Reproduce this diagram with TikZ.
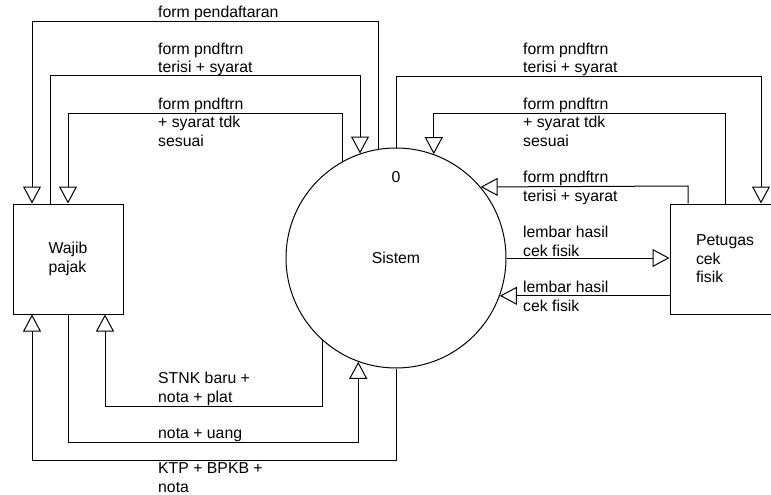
\documentclass[tikz,border=0pt]{standalone}
\usepackage{fontspec}
\setmainfont{Liberation Sans}
\usetikzlibrary{arrows.meta}
\begin{document}
\begin{tikzpicture}[x=1pt,y=-1pt,
  every node/.style={font=\fontsize{15.8}{18.5}\selectfont},
  entity/.style={draw,line width=1pt,minimum width=110pt,minimum height=110pt,align=left,inner sep=0pt},
  process/.style={draw,line width=1pt,circle,minimum size=220pt,inner sep=0pt},
  flow/.style={line width=1pt,-{Triangle[open,fill=white,length=17pt,width=18pt]}},
  lbl/.style={anchor=base west,align=left,inner sep=0pt}]
\useasboundingbox (0,0) rectangle (771,495);

% entities and the process
\node[entity] (wp) at (68,259) {Wajib\\pajak};
\node[entity] (pt) at (725,259) {Petugas\\cek\\fisik};
\node[process] (sys) at (396,258) {Sistem};
\node[inner sep=0pt,anchor=base] (num) at (396,182) {0};

% corner points of the routed flows
\coordinate (t1) at (32,22);
\coordinate (t2) at (50,76);
\coordinate (t3) at (68,113);
\coordinate (r1) at (761,77);
\coordinate (r2) at (725,113);
\coordinate (r3) at (688,186);
\coordinate (b1) at (105,406);
\coordinate (b2) at (68,442);
\coordinate (b3) at (32,460);

% flows between Wajib pajak and Sistem (top)
\draw[flow] (sys.99.4) |- (t1) -- (t1 |- wp.north);
\draw[flow] (t2 |- wp.north) -- (t2) -| (sys.109.1);
\draw[flow] (sys.119.4) |- (t3) -- (wp.north);

% flows between Sistem and Petugas cek fisik
\draw[flow] (sys.north) |- (r1) -- (r1 |- pt.north);
\draw[flow] (pt.north) -- (r2) -| (sys.70.9);
\draw[flow] (r3 |- pt.north) -- (r3) -- (sys.40.9);
\draw[flow] (sys.east) -- (sys.east -| pt.west);
\draw[flow] (pt.west |- sys.-20.2) -- (sys.-20.2);

% flows between Wajib pajak and Sistem (bottom)
\draw[flow] (sys.228.4) |- (b1) -- (b1 |- wp.south);
\draw[flow] (wp.south) -- (b2) -| (sys.250.9);
\draw[flow] (sys.south) |- (b3) -- (b3 |- wp.south);

% flow labels (anchored at the baseline of their last line)
\node[lbl] (l1) at (158,18) {form pendaftaran};
\node[lbl] (l2) at (158,73) {form pndftrn\\terisi + syarat};
\node[lbl] (l3) at (158,146) {form pndftrn\\+ syarat tdk\\sesuai};
\node[lbl] (l4) at (523,73) {form pndftrn\\terisi + syarat};
\node[lbl] (l5) at (523,146) {form pndftrn\\+ syarat tdk\\sesuai};
\node[lbl] (l6) at (523,201) {form pndftrn\\terisi + syarat};
\node[lbl] (l7) at (523,256) {lembar hasil\\cek fisik};
\node[lbl] (l8) at (523,311) {lembar hasil\\cek fisik};
\node[lbl] (l9) at (158,402) {STNK baru +\\nota + plat};
\node[lbl] (l10) at (158,438) {nota + uang};
\node[lbl] (l11) at (158,492) {KTP + BPKB +\\nota};
\end{tikzpicture}
\end{document}
